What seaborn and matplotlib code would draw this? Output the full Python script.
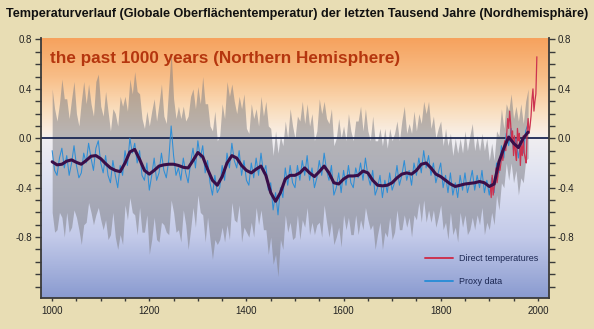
import numpy as np
import pandas as pd
import matplotlib
matplotlib.use("Agg")
import matplotlib.pyplot as plt
from matplotlib.colors import LinearSegmentedColormap
from matplotlib.lines import Line2D
from matplotlib.ticker import MultipleLocator
import seaborn as sns

# --- data -------------------------------------------------------------
# proxy reconstruction, 5-year steps from 1000 to 1980 (deg C anomaly)
proxy_start, proxy_step = 1000, 5
proxy_values = [
    -0.10, -0.26, -0.30, -0.16, -0.08, -0.24, -0.14, -0.30, -0.20, -0.06,
    -0.22, -0.32, -0.28, -0.12, -0.20, -0.04, -0.16, -0.26, -0.08, -0.02,
    -0.20, -0.28, -0.14, -0.30, -0.36, -0.18, -0.30, -0.40, -0.22, -0.30,
    -0.10, -0.22, 0.00, -0.12, -0.04, -0.20, -0.10, -0.30, -0.34, -0.20,
    -0.42, -0.30, -0.16, -0.34, -0.28, -0.12, -0.26, -0.32, -0.18, 0.10,
    -0.14, -0.30, -0.24, -0.34, -0.16, -0.28, -0.36, -0.20, -0.08, -0.24,
    -0.02, -0.16, -0.06, -0.28, -0.18, -0.36, -0.46, -0.30, -0.44, -0.40,
    -0.22, -0.34, -0.12, -0.24, -0.04, -0.18, -0.24, -0.10, -0.30, -0.18,
    -0.34, -0.38, -0.20, -0.32, -0.16, -0.30, -0.12, -0.28, -0.22, -0.42,
    -0.36, -0.58, -0.44, -0.62, -0.40, -0.48, -0.24, -0.38, -0.22, -0.36,
    -0.40, -0.22, -0.34, -0.18, -0.30, -0.14, -0.34, -0.24, -0.40, -0.32,
    -0.18, -0.30, -0.12, -0.26, -0.34, -0.22, -0.46, -0.40, -0.28, -0.44,
    -0.26, -0.38, -0.22, -0.36, -0.40, -0.24, -0.32, -0.20, -0.34, -0.16,
    -0.30, -0.38, -0.26, -0.46, -0.40, -0.30, -0.48, -0.34, -0.44, -0.28,
    -0.42, -0.36, -0.22, -0.38, -0.30, -0.18, -0.34, -0.26, -0.38, -0.20,
    -0.30, -0.16, -0.28, -0.10, -0.24, -0.14, -0.30, -0.20, -0.36, -0.28,
    -0.20, -0.40, -0.30, -0.44, -0.28, -0.46, -0.36, -0.48, -0.30, -0.42,
    -0.28, -0.44, -0.36, -0.26, -0.42, -0.30, -0.40, -0.26, -0.44, -0.34,
    -0.46, -0.32, -0.44, -0.20, -0.28, -0.06, -0.16, 0.04, -0.06, 0.08,
    -0.10, 0.00, -0.16, -0.02, -0.12, 0.06, 0.12,
]

# 40-year smoothed reconstruction, 10-year steps from 1000 to 1980
smooth_start, smooth_step = 1000, 10
smooth_values = [
    -0.19, -0.215, -0.21, -0.185, -0.175, -0.195, -0.21, -0.18, -0.145, -0.14,
    -0.165, -0.205, -0.24, -0.26, -0.27, -0.20, -0.11, -0.09, -0.17, -0.26,
    -0.29, -0.26, -0.225, -0.215, -0.21, -0.21, -0.22, -0.235, -0.24, -0.18,
    -0.115, -0.15, -0.25, -0.34, -0.38, -0.31, -0.20, -0.14, -0.16, -0.22,
    -0.26, -0.28, -0.25, -0.225, -0.30, -0.44, -0.51, -0.44, -0.33, -0.30,
    -0.30, -0.28, -0.24, -0.28, -0.31, -0.27, -0.225, -0.28, -0.36, -0.37,
    -0.33, -0.305, -0.305, -0.30, -0.265, -0.28, -0.34, -0.38, -0.385, -0.38,
    -0.36, -0.32, -0.29, -0.28, -0.29, -0.26, -0.21, -0.20, -0.24, -0.29,
    -0.31, -0.34, -0.37, -0.39, -0.38, -0.37, -0.365, -0.36, -0.35, -0.36,
    -0.39, -0.37, -0.19, -0.08, 0.01, -0.04, -0.075, 0.00, 0.05,
]

# instrumental record, 2-year steps from 1902 to 1998
direct_start, direct_step = 1902, 2
direct_values = [
    -0.38, -0.48, -0.30, -0.46, -0.40, -0.36, -0.24, -0.36, -0.30, -0.22,
    -0.26, -0.20, -0.10, -0.18, -0.06, -0.02, -0.10, 0.04, 0.16, 0.08,
    0.22, 0.12, -0.02, 0.06, -0.14, 0.02, -0.12, -0.18, 0.08, -0.02,
    0.04, -0.22, -0.06, -0.14, 0.02, -0.12, -0.16, -0.20, 0.06, 0.16,
    0.04, 0.10, 0.18, 0.32, 0.40, 0.22, 0.30, 0.36, 0.66,
]

# uncertainty half-width of the reconstruction, one value per decade 1000-1980
err_decade = [
    0.50, 0.44, 0.56, 0.46, 0.52, 0.42, 0.58, 0.48, 0.44, 0.54,
    0.46, 0.52, 0.42, 0.50, 0.56, 0.44, 0.48, 0.58, 0.46, 0.42,
    0.52, 0.48, 0.56, 0.44, 0.60, 0.46, 0.50, 0.42, 0.54, 0.48,
    0.44, 0.56, 0.46, 0.52, 0.42, 0.50, 0.58, 0.48, 0.44, 0.54,
    0.42, 0.48, 0.40, 0.46, 0.52, 0.44, 0.50, 0.42, 0.38, 0.46,
    0.40, 0.48, 0.42, 0.44, 0.38, 0.50, 0.42, 0.46, 0.40, 0.44,
    0.36, 0.42, 0.38, 0.46, 0.40, 0.36, 0.44, 0.38, 0.42, 0.36,
    0.40, 0.36, 0.44, 0.38, 0.42, 0.36, 0.40, 0.44, 0.38, 0.36,
    0.34, 0.38, 0.32, 0.36, 0.30, 0.34, 0.38, 0.32, 0.30, 0.34,
    0.28, 0.26, 0.30, 0.24, 0.28, 0.26, 0.30, 0.24, 0.28,
]

y_ticks = [-0.8, -0.4, 0.0, 0.4, 0.8]
x_ticks = [1000, 1200, 1400, 1600, 1800, 2000]

title = ("Temperaturverlauf (Globale Oberflächentemperatur) der letzten "
         "Tausend Jahre (Nordhemisphäre)")
subtitle = "the past 1000 years (Northern Hemisphere)"
legend_labels = ["Direct temperatures", "Proxy data"]

# --- tables -----------------------------------------------------------
proxy = pd.DataFrame({"year": proxy_start + proxy_step * np.arange(len(proxy_values)),
                      "temp": proxy_values})
decade_idx = (proxy["year"] - smooth_start) // 10
proxy["err"] = np.asarray(err_decade)[decade_idx]
smooth = pd.DataFrame({"year": smooth_start + smooth_step * np.arange(len(smooth_values)),
                       "temp": smooth_values})
direct = pd.DataFrame({"year": direct_start + direct_step * np.arange(len(direct_values)),
                       "temp": direct_values})

# --- style ------------------------------------------------------------
sns.set_theme(style="ticks")
plt.rcParams["font.family"] = ["Liberation Sans", "DejaVu Sans"]
plt.rcParams["axes.unicode_minus"] = False

fig_bg = "#E8DDB4"
spine_col = "#3A3A3A"
red = "#CC3350"
blue = "#2E8ED6"
purple = "#3A0E48"
navy = "#1B2752"

xlim = (977, 2023)
ylim = (-1.293, 0.812)

fig = plt.figure(figsize=(5.94, 3.29), dpi=100, facecolor=fig_bg)
ax = fig.add_axes([41 / 594, 1 - 298 / 329, 508 / 594, 260 / 329])
ax.set_xlim(*xlim)
ax.set_ylim(*ylim)

# vertical colour wash of the plot area: orange above, lavender-blue below
stops = [(-1.293, (138, 155, 208)), (-0.8, (195, 202, 233)),
         (-0.3, (224, 227, 242)), (0.0, (240, 238, 240)),
         (0.05, (248, 238, 228)), (0.25, (250, 220, 186)),
         (0.5, (248, 190, 136)), (0.812, (246, 162, 94))]
span = ylim[1] - ylim[0]
cmap = LinearSegmentedColormap.from_list(
    "wash", [((v - ylim[0]) / span, tuple(c / 255 for c in rgb)) for v, rgb in stops])
grad = np.linspace(0, 1, 400).reshape(-1, 1)
ax.imshow(grad, cmap=cmap, origin="lower", aspect="auto",
          extent=(xlim[0], xlim[1], ylim[0], ylim[1]), zorder=0)

# uncertainty band
ax.fill_between(proxy["year"], proxy["temp"] - proxy["err"], proxy["temp"] + proxy["err"],
                color="#7E7E84", alpha=0.52, lw=0, zorder=1)

ax.axhline(0.0, color=navy, lw=1.3, zorder=2)

sns.lineplot(data=proxy, x="year", y="temp", ax=ax, color=blue, lw=0.75,
             estimator=None, zorder=3)
sns.lineplot(data=direct, x="year", y="temp", ax=ax, color=red, lw=0.9,
             estimator=None, zorder=3)
sns.lineplot(data=smooth, x="year", y="temp", ax=ax, color=purple, lw=2.2,
             estimator=None, zorder=4)

# --- axes decoration --------------------------------------------------
ax.set_xlabel("")
ax.set_ylabel("")
ax.set_yticks(y_ticks)
ax.set_yticklabels([f"{v:.1f}" for v in y_ticks])
ax.yaxis.set_minor_locator(MultipleLocator(0.1))
ax.set_xticks(x_ticks)
ax.set_xticklabels([str(v) for v in x_ticks])
ax.xaxis.set_minor_locator(MultipleLocator(50))

for side in ("left", "right", "bottom"):
    ax.spines[side].set_color(spine_col)
    ax.spines[side].set_linewidth(1.3)
ax.spines["top"].set_visible(False)

ax.tick_params(axis="y", which="both", left=True, right=True,
               labelleft=True, labelright=True, direction="out",
               color=spine_col, width=1.0, labelsize=7, labelcolor="#222222", pad=2)
ax.tick_params(axis="y", which="major", length=4.5)
ax.tick_params(axis="y", which="minor", length=4)
ax.tick_params(axis="x", which="both", direction="out", length=2.5, width=1.0,
               color=spine_col, labelsize=7, labelcolor="#222222", pad=3)

ax.text(0.018, 0.923, subtitle, transform=ax.transAxes, ha="left", va="center",
        fontsize=12.35, fontweight="bold", color="#B5360E", zorder=5)

fig.text(0.5, 1 - 14 / 329, title, ha="center", va="center",
         fontsize=9.1, fontweight="bold", color="#111111")

handles = [Line2D([], [], color=red, lw=1.4), Line2D([], [], color=blue, lw=1.4)]
leg = ax.legend(handles, legend_labels, loc="upper left",
                bbox_to_anchor=(0.756, 0.170), frameon=False, fontsize=6.5,
                handlelength=3.1, handletextpad=0.67, labelspacing=1.6,
                borderpad=0, borderaxespad=0)
for t in leg.get_texts():
    t.set_color(navy)

fig.savefig("out.png", dpi=100, facecolor=fig_bg)
